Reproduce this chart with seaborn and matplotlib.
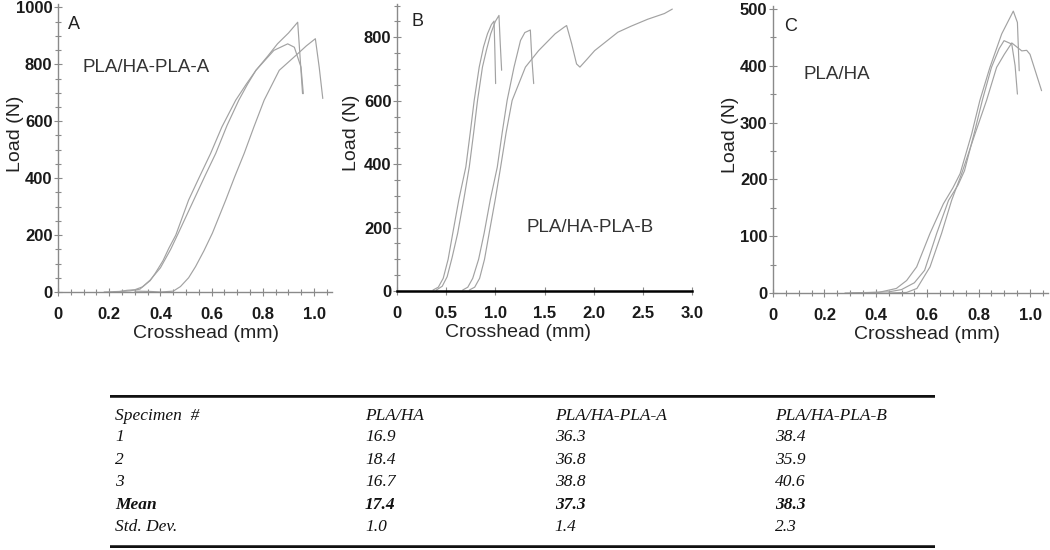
import numpy as np
import pandas as pd
import matplotlib
matplotlib.use("Agg")
import matplotlib.pyplot as plt
from matplotlib.ticker import MultipleLocator
import seaborn as sns

# ---------------- data ----------------
# Panel A : PLA/HA-PLA-A
a1_x = [0.18, 0.24, 0.27, 0.30, 0.33, 0.36, 0.38, 0.41, 0.433, 0.46, 0.51, 0.55, 0.596, 0.64, 0.694, 0.735, 0.773, 0.82, 0.857, 0.90, 0.936, 0.945, 0.955]
a1_y = [0, 2, 6, 8, 18, 40, 66, 110, 154, 200, 323, 400, 487, 580, 674, 730, 779, 830, 872, 910, 948, 830, 697]
a2_x = [0.22, 0.28, 0.32, 0.36, 0.40, 0.44, 0.47, 0.53, 0.575, 0.616, 0.66, 0.706, 0.74, 0.773, 0.843, 0.897, 0.923, 0.949, 0.958]
a2_y = [0, 4, 10, 42, 85, 150, 207, 323, 410, 487, 585, 674, 730, 779, 849, 872, 860, 790, 697]
a3_x = [0.30, 0.36, 0.40, 0.45, 0.478, 0.51, 0.537, 0.57, 0.603, 0.655, 0.69, 0.727, 0.765, 0.805, 0.864, 0.936, 0.97, 1.005, 1.02, 1.034]
a3_y = [3, 2, 0, 3, 19, 50, 89, 145, 207, 323, 405, 487, 580, 674, 779, 837, 865, 890, 790, 680]

# Panel B : PLA/HA-PLA-B
b1_x = [0.366, 0.42, 0.47, 0.52, 0.567, 0.63, 0.70, 0.745, 0.785, 0.836, 0.88, 0.92, 0.96, 0.987, 0.995, 1.003]
b1_y = [3, 12, 40, 100, 182, 290, 391, 500, 601, 706, 770, 811, 840, 851, 760, 654]
b2_x = [0.40, 0.46, 0.51, 0.56, 0.617, 0.68, 0.735, 0.78, 0.819, 0.869, 0.91, 0.953, 1.0, 1.037, 1.05, 1.064]
b2_y = [3, 15, 45, 105, 182, 290, 391, 500, 601, 706, 760, 811, 850, 869, 780, 696]
b3_x = [0.668, 0.72, 0.77, 0.83, 0.886, 0.95, 1.02, 1.07, 1.12, 1.19, 1.256, 1.30, 1.356, 1.37, 1.39]
b3_y = [3, 12, 40, 100, 182, 290, 391, 500, 601, 706, 790, 815, 823, 740, 654]
b4_x = [0.735, 0.79, 0.84, 0.89, 0.937, 1.0, 1.054, 1.11, 1.171, 1.306, 1.44, 1.608, 1.70, 1.725, 1.776, 1.826, 1.86, 1.93, 2.01, 2.246, 2.38, 2.55, 2.72, 2.80]
b4_y = [3, 12, 40, 100, 182, 290, 391, 500, 601, 706, 758, 811, 832, 837, 780, 716, 706, 730, 758, 816, 835, 857, 875, 889]

# Panel C : PLA/HA
c1_x = [0.28, 0.41, 0.48, 0.52, 0.559, 0.611, 0.663, 0.70, 0.728, 0.773, 0.805, 0.844, 0.89, 0.935, 0.951, 0.958]
c1_y = [0, 1, 8, 22, 46, 105, 157, 185, 210, 280, 339, 397, 456, 496, 476, 391]
c2_x = [0.30, 0.45, 0.50, 0.55, 0.59, 0.637, 0.683, 0.72, 0.745, 0.785, 0.815, 0.85, 0.88, 0.899, 0.929, 0.942, 0.951]
c2_y = [0, 2, 6, 18, 40, 105, 163, 190, 215, 285, 340, 397, 430, 444, 438, 400, 350]
c3_x = [0.45, 0.52, 0.56, 0.611, 0.656, 0.695, 0.734, 0.786, 0.831, 0.87, 0.90, 0.929, 0.968, 0.987, 1.0, 1.045]
c3_y = [0, 1, 8, 46, 105, 163, 210, 280, 339, 397, 420, 440, 426, 427, 420, 356]

# Table
table_header = ["Specimen  #", "PLA/HA", "PLA/HA-PLA-A", "PLA/HA-PLA-B"]
table_rows = ["1", "2", "3", "Mean", "Std. Dev."]
col_plaha = ["16.9", "18.4", "16.7", "17.4", "1.0"]
col_a = ["36.3", "36.8", "38.8", "37.3", "1.4"]
col_b = ["38.4", "35.9", "40.6", "38.3", "2.3"]

# ---------------- style ----------------
sns.set_style("ticks")
plt.rcParams["font.family"] = ["Liberation Sans", "DejaVu Sans"]

W, H = 1050, 550
fig = plt.figure(figsize=(10.5, 5.5), dpi=100)

def px_axes(left, top, right, bottom):
    return fig.add_axes([left / W, 1 - bottom / H, (right - left) / W, (bottom - top) / H])

def make_df(curves):
    frames = []
    for name, xs, ys in curves:
        frames.append(pd.DataFrame({"x": xs, "y": ys, "curve": name}))
    return pd.concat(frames, ignore_index=True)

line_color = "#a2a2a2"
axis_gray = "#8a8a8a"

def style_axes(ax, xlim, ylim, xticks, xlabels, xmin, ymaj, ymin, bottom_black=False):
    ax.set_xticks(xticks)
    ax.set_xticklabels(xlabels)
    ax.set_xlim(*xlim)
    ax.set_ylim(*ylim)
    ax.yaxis.set_major_locator(MultipleLocator(ymaj))
    if xmin:
        ax.xaxis.set_minor_locator(MultipleLocator(xmin))
    if ymin:
        ax.yaxis.set_minor_locator(MultipleLocator(ymin))
    for s in ["top", "right"]:
        ax.spines[s].set_visible(False)
    ax.spines["left"].set_color(axis_gray)
    ax.spines["left"].set_linewidth(1.0)
    if bottom_black:
        ax.spines["bottom"].set_color("black")
        ax.spines["bottom"].set_linewidth(1.8)
    else:
        ax.spines["bottom"].set_color(axis_gray)
        ax.spines["bottom"].set_linewidth(1.0)
    ax.tick_params(axis="both", which="major", direction="inout", length=6, width=0.8,
                   colors=axis_gray, labelcolor="#1a1a1a", labelsize=12,
                   bottom=True, left=True)
    ax.tick_params(axis="both", which="minor", direction="inout", length=4, width=0.8,
                   colors=axis_gray, bottom=True, left=True)
    ax.tick_params(axis="x", which="major", pad=8)
    ax.tick_params(axis="y", which="major", pad=1)
    for lab in ax.get_xticklabels() + ax.get_yticklabels():
        lab.set_fontweight("bold")
    ax.set_xlabel("Crosshead (mm)", fontsize=14, color="#222222")
    ax.set_ylabel("Load (N)", fontsize=14, color="#222222")
    ax.grid(False)

# ---------------- panel A ----------------
axA = px_axes(58, 4, 332, 292)
dfA = make_df([("1", a1_x, a1_y), ("2", a2_x, a2_y), ("3", a3_x, a3_y)])
sns.lineplot(data=dfA, x="x", y="y", units="curve", estimator=None, sort=False,
             color=line_color, linewidth=0.85, ax=axA, legend=False)
style_axes(axA, (0, 1.07), (0, 1012), [0, 0.2, 0.4, 0.6, 0.8, 1.0],
           ["0", "0.2", "0.4", "0.6", "0.8", "1.0"], 0.05, 200, 50)
axA.text(0.035, 0.93, "A", transform=axA.transAxes, fontsize=13, color="#222222", va="center")
axA.text(0.09, 0.78, "PLA/HA-PLA-A", transform=axA.transAxes, fontsize=13.5, color="#333333", va="center")

# ---------------- panel B ----------------
axB = px_axes(397, 4, 692, 291)
dfB = make_df([("1", b1_x, b1_y), ("2", b2_x, b2_y), ("3", b3_x, b3_y), ("4", b4_x, b4_y)])
sns.lineplot(data=dfB, x="x", y="y", units="curve", estimator=None, sort=False,
             color=line_color, linewidth=0.85, ax=axB, legend=False)
style_axes(axB, (0, 3.0), (0, 905), [0, 0.5, 1.0, 1.5, 2.0, 2.5, 3.0],
           ["0", "0.5", "1.0", "1.5", "2.0", "2.5", "3.0"], None, 200, 50, bottom_black=True)
axB.text(0.05, 0.94, "B", transform=axB.transAxes, fontsize=13, color="#222222", va="center")
axB.text(0.44, 0.22, "PLA/HA-PLA-B", transform=axB.transAxes, fontsize=13.5, color="#333333", va="center")

# ---------------- panel C ----------------
axC = px_axes(773, 6, 1048, 293)
dfC = make_df([("1", c1_x, c1_y), ("2", c2_x, c2_y), ("3", c3_x, c3_y)])
sns.lineplot(data=dfC, x="x", y="y", units="curve", estimator=None, sort=False,
             color=line_color, linewidth=0.85, ax=axC, legend=False)
style_axes(axC, (0, 1.07), (0, 505), [0, 0.2, 0.4, 0.6, 0.8, 1.0],
           ["0", "0.2", "0.4", "0.6", "0.8", "1.0"], 0.05, 100, 50)
axC.text(0.04, 0.93, "C", transform=axC.transAxes, fontsize=13, color="#222222", va="center")
axC.text(0.11, 0.76, "PLA/HA", transform=axC.transAxes, fontsize=13.5, color="#333333", va="center")

for ax in (axA, axB, axC):
    ax.yaxis.set_label_coords(-0.125, 0.55)

axA.xaxis.set_label_coords(0.54, -0.115)
axB.xaxis.set_label_coords(0.41, -0.115)
axC.xaxis.set_label_coords(0.56, -0.115)

# ---------------- table ----------------
axT = px_axes(110, 395, 935, 548)
axT.set_xlim(0, 1)
axT.set_ylim(0, 1)
axT.axis("off")
axT.axhline(1.0, color="#111111", linewidth=4)
axT.axhline(0.0, color="#111111", linewidth=4)
col_x = [0.006, 0.309, 0.539, 0.806]
row_y = [0.863, 0.725, 0.575, 0.431, 0.281, 0.137]
tfont = dict(family=["Liberation Serif", "DejaVu Serif"], style="italic", fontsize=12.5,
             color="#111111", va="center", ha="left")
for cx, txt in zip(col_x, table_header):
    axT.text(cx, row_y[0], txt, **tfont)
for i, lab in enumerate(table_rows):
    weight = "bold" if lab == "Mean" else "normal"
    vals = [lab, col_plaha[i], col_a[i], col_b[i]]
    for cx, txt in zip(col_x, vals):
        axT.text(cx, row_y[i + 1], txt, fontweight=weight, **tfont)

fig.savefig("out.png", dpi=100)
